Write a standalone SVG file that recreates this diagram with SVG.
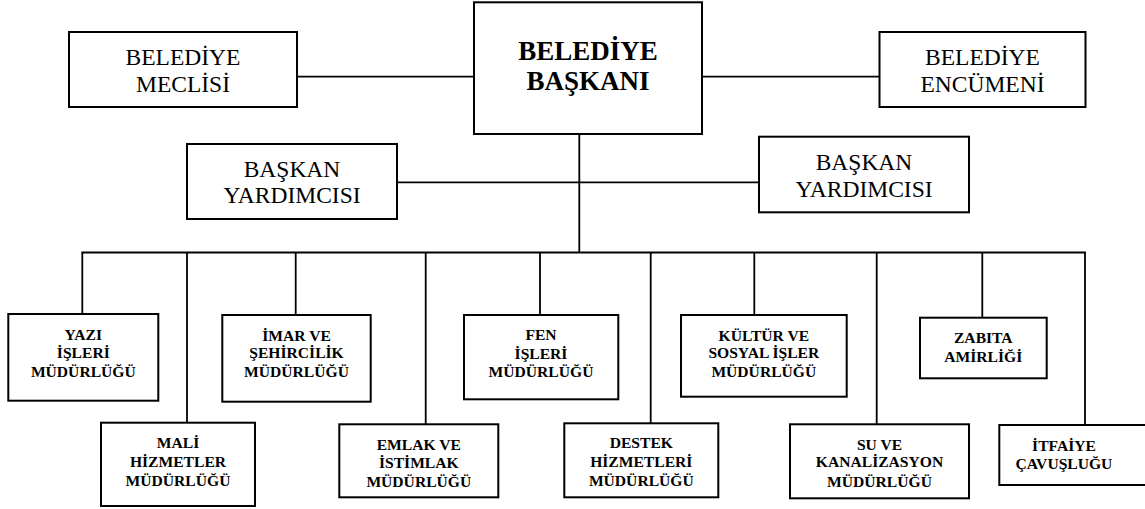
<svg xmlns="http://www.w3.org/2000/svg" width="1145" height="509" viewBox="0 0 1145 509" font-family="Liberation Serif, Times New Roman, DejaVu Serif, serif">
<style>
.box{fill:#fff;stroke:#000;stroke-width:2}
.ln{stroke:#000;stroke-width:1.8;fill:none}
text{text-anchor:middle;fill:#000}
.t{font-size:23.5px}
.tb{font-size:27px;font-weight:bold}
.s{font-size:15.6px;font-weight:bold}
</style>
<rect width="1145" height="509" fill="#fff"/>
<g id="connectors" class="ln">
<line x1="297" y1="76.7" x2="474" y2="76.7"/>
<line x1="702" y1="76.7" x2="880" y2="76.7"/>
<line x1="579.3" y1="134" x2="579.3" y2="252.5"/>
<line x1="397" y1="182.3" x2="759" y2="182.3"/>
<line x1="81.4" y1="252.5" x2="1085.9" y2="252.5"/>
<line x1="82.3" y1="252.5" x2="82.3" y2="314"/>
<line x1="187" y1="252.5" x2="187" y2="422.7"/>
<line x1="295.7" y1="252.5" x2="295.7" y2="315"/>
<line x1="425.7" y1="252.5" x2="425.7" y2="424.3"/>
<line x1="540" y1="252.5" x2="540" y2="315"/>
<line x1="650.7" y1="252.5" x2="650.7" y2="423.3"/>
<line x1="754.3" y1="252.5" x2="754.3" y2="315"/>
<line x1="876.7" y1="252.5" x2="876.7" y2="424.3"/>
<line x1="982.3" y1="252.5" x2="982.3" y2="317.7"/>
<line x1="1085" y1="252.5" x2="1085" y2="425"/>
</g>
<g id="meclis"><rect class="box" x="69" y="32" width="228" height="75"/><text class="t" x="183" y="65">BELEDİYE</text><text class="t" x="183" y="92">MECLİSİ</text></g>
<g id="baskan"><rect class="box" x="474" y="2.3" width="228" height="131.7"/><text class="tb" x="588" y="60">BELEDİYE</text><text class="tb" x="588" y="90">BAŞKANI</text></g>
<g id="encumen"><rect class="box" x="879.5" y="32" width="206" height="75"/><text class="t" x="982.5" y="65">BELEDİYE</text><text class="t" x="982.5" y="92">ENCÜMENİ</text></g>
<g id="yardimci1"><rect class="box" x="187" y="144" width="210" height="75"/><text class="t" x="292" y="176.7">BAŞKAN</text><text class="t" x="292" y="203">YARDIMCISI</text></g>
<g id="yardimci2"><rect class="box" x="759" y="136.7" width="210" height="75.6"/><text class="t" x="864" y="170">BAŞKAN</text><text class="t" x="864" y="196.7">YARDIMCISI</text></g>
<g id="yazi"><rect class="box" x="8.3" y="314" width="150" height="86.7"/><text class="s" x="83.3" y="340">YAZI</text><text class="s" x="83.3" y="357.7">İŞLERİ</text><text class="s" x="83.3" y="376.7">MÜDÜRLÜĞÜ</text></g>
<g id="mali"><rect class="box" x="101" y="422.7" width="154" height="83.3"/><text class="s" x="178" y="448.3">MALİ</text><text class="s" x="178" y="466.7">HİZMETLER</text><text class="s" x="178" y="486">MÜDÜRLÜĞÜ</text></g>
<g id="imar"><rect class="box" x="222.3" y="315" width="148.4" height="86.7"/><text class="s" x="296.5" y="341">İMAR VE</text><text class="s" x="296.5" y="358.3">ŞEHİRCİLİK</text><text class="s" x="296.5" y="376.7">MÜDÜRLÜĞÜ</text></g>
<g id="emlak"><rect class="box" x="339.3" y="424.3" width="159" height="73"/><text class="s" x="418.8" y="450">EMLAK VE</text><text class="s" x="418.8" y="467.7">İSTİMLAK</text><text class="s" x="418.8" y="486.7">MÜDÜRLÜĞÜ</text></g>
<g id="fen"><rect class="box" x="464" y="315" width="154.3" height="84.3"/><text class="s" x="541" y="340">FEN</text><text class="s" x="541" y="359">İŞLERİ</text><text class="s" x="541" y="377.3">MÜDÜRLÜĞÜ</text></g>
<g id="destek"><rect class="box" x="564.3" y="423.3" width="154" height="74"/><text class="s" x="641.3" y="448.3">DESTEK</text><text class="s" x="641.3" y="467.3">HİZMETLERİ</text><text class="s" x="641.3" y="486">MÜDÜRLÜĞÜ</text></g>
<g id="kultur"><rect class="box" x="681" y="315" width="165.7" height="81.7"/><text class="s" x="763.8" y="341">KÜLTÜR VE</text><text class="s" x="763.8" y="358.3">SOSYAL İŞLER</text><text class="s" x="763.8" y="376.7">MÜDÜRLÜĞÜ</text></g>
<g id="su"><rect class="box" x="790" y="424.3" width="179" height="74"/><text class="s" x="879.5" y="450">SU VE</text><text class="s" x="879.5" y="467.3">KANALİZASYON</text><text class="s" x="879.5" y="486.7">MÜDÜRLÜĞÜ</text></g>
<g id="zabita"><rect class="box" x="920" y="317.7" width="126.7" height="60.6"/><text class="s" x="983.3" y="343.3">ZABITA</text><text class="s" x="983.3" y="361.7">AMİRLİĞİ</text></g>
<g id="itfaiye"><rect class="box" x="999.3" y="425" width="152" height="60"/><text class="s" x="1064" y="450.7">İTFAİYE</text><text class="s" x="1064" y="469.3">ÇAVUŞLUĞU</text></g>
</svg>
